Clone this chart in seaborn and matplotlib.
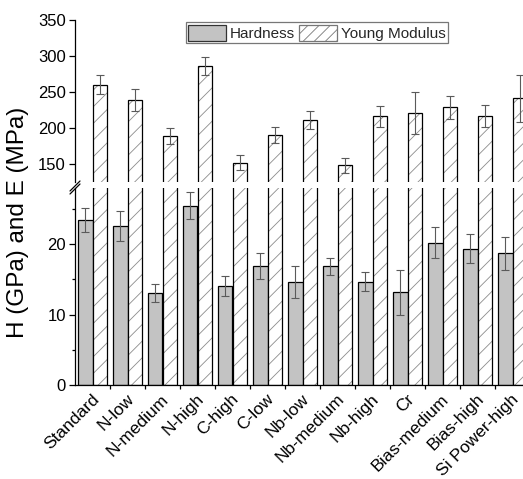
import numpy as np
import pandas as pd
import seaborn as sns
import matplotlib.pyplot as plt
import matplotlib.transforms as mtransforms
from matplotlib.patches import Patch, Rectangle
from matplotlib.lines import Line2D
from matplotlib.ticker import FixedLocator, MultipleLocator

# Coating variants and measured properties (mean and standard deviation)
categories = ['Standard', 'N-low', 'N-medium', 'N-high', 'C-high', 'C-low',
              'Nb-low', 'Nb-medium', 'Nb-high', 'Cr', 'Bias-medium',
              'Bias-high', 'Si Power-high']
hardness = [23.4, 22.6, 13.1, 25.5, 14.1, 16.9, 14.6, 16.9, 14.7, 13.2, 20.2, 19.4, 18.7]
hardness_err = [1.7, 2.1, 1.3, 1.9, 1.4, 1.8, 2.3, 1.2, 1.4, 3.2, 2.2, 2.0, 2.3]
modulus = [260, 239, 189, 286, 152, 190, 211, 148, 216, 221, 229, 217, 241]
modulus_err = [13, 15, 11, 13, 10, 11, 12, 11, 14, 29, 16, 15, 33]
series_names = ['Hardness', 'Young Modulus']

upper_ticks = [150, 200, 250, 300, 350]
lower_ticks = [0, 10, 20]

sns.set_theme(style='ticks')
plt.rcParams['font.family'] = ['Liberation Sans', 'DejaVu Sans']
plt.rcParams['hatch.linewidth'] = 0.6

df = pd.DataFrame({
    'category': categories * 2,
    'series': [series_names[0]] * len(categories) + [series_names[1]] * len(categories),
    'value': hardness + modulus,
})
errors = {series_names[0]: hardness_err, series_names[1]: modulus_err}
palette = {'Hardness': '#c3c3c3', 'Young Modulus': 'white'}

W, H = 523, 479
fig = plt.figure(figsize=(W / 100, H / 100), dpi=100)
left_px, right_px = 75, 530


def axes_rect(top_px, bottom_px):
    return [left_px / W, 1 - bottom_px / H, (right_px - left_px) / W, (bottom_px - top_px) / H]


ax_top = fig.add_axes(axes_rect(20, 182))
ax_bot = fig.add_axes(axes_rect(188, 385))

for ax in (ax_top, ax_bot):
    sns.barplot(data=df, x='category', y='value', hue='series', hue_order=series_names,
                palette=palette, saturation=1, width=0.82, edgecolor='black',
                linewidth=0.9, errorbar=None, legend=False, ax=ax)
    for name, container in zip(series_names, ax.containers):
        centers = [p.get_x() + p.get_width() / 2 for p in container.patches]
        heights = [p.get_height() for p in container.patches]
        if name == 'Young Modulus':
            for p in container.patches:
                # grey hatch inside, black outline drawn on top
                p.set_hatch('//')
                p.set_edgecolor('#8c8c8c')
                p.set_linewidth(0)
                ax.add_patch(Rectangle(p.get_xy(), p.get_width(), p.get_height(),
                                       fill=False, edgecolor='black', linewidth=0.9,
                                       zorder=p.get_zorder() + 0.1))
        ax.errorbar(centers, heights, yerr=errors[name], fmt='none', ecolor='#5a5a5a',
                    elinewidth=0.8, capsize=2.6, capthick=0.8, zorder=4)
    ax.set_xlim(-0.5, len(categories) - 0.5)
    ax.set_xlabel('')
    ax.set_ylabel('')
    sns.despine(ax=ax)
    ax.spines['left'].set_color('black')
    ax.spines['left'].set_linewidth(0.9)
    ax.tick_params(axis='y', which='major', length=4.5, width=0.9, color='black',
                   labelsize=12, pad=2, labelcolor='black')
    ax.tick_params(axis='y', which='minor', length=2.5, width=0.9, color='black')

# upper panel: Young's modulus range
ax_top.set_ylim(125, 350)
ax_top.set_yticks(upper_ticks)
ax_top.spines['bottom'].set_visible(False)
ax_top.tick_params(axis='x', which='both', bottom=False, labelbottom=False)

# lower panel: hardness range
ax_bot.set_ylim(0, 28)
ax_bot.set_yticks(lower_ticks)
ax_bot.yaxis.set_minor_locator(MultipleLocator(5))
ax_bot.spines['bottom'].set_color('black')
ax_bot.spines['bottom'].set_linewidth(0.9)
ax_bot.xaxis.set_minor_locator(FixedLocator(np.arange(0.5, len(categories) - 0.5, 1)))
ax_bot.tick_params(axis='x', which='major', length=0, pad=8.5, labelsize=12.5, labelcolor='black')
ax_bot.tick_params(axis='x', which='minor', length=3, width=0.9, color='black')
shift = mtransforms.ScaledTranslation(4 / 100, 0, fig.dpi_scale_trans)
for lbl in ax_bot.get_xticklabels():
    lbl.set_rotation(45)
    lbl.set_ha('right')
    lbl.set_va('center')
    lbl.set_rotation_mode('anchor')
    lbl.set_transform(lbl.get_transform() + shift)

# axis break marks on the left spine
for dy in (0, 3):
    fig.add_artist(Line2D([70 / W, 80 / W], [1 - (191 + dy) / H, 1 - (181 + dy) / H],
                          transform=fig.transFigure, color='black', lw=0.9))

fig.text(18 / W, 1 - 222 / H, 'H (GPa) and E (MPa)', rotation=90, ha='center',
         va='center', fontsize=17.5, color='black')

handles = [Patch(facecolor=palette['Hardness'], edgecolor='#333333', linewidth=0.9),
           Patch(facecolor='white', edgecolor='#777777', hatch='///', linewidth=0.9)]
leg = ax_top.legend(handles, series_names, loc='upper right', bbox_to_anchor=(0.82, 0.985),
                    ncol=2, fontsize=11, handlelength=2.5, handleheight=1.25,
                    handletextpad=0.25, columnspacing=0.25, borderpad=0.15,
                    borderaxespad=0, fancybox=False, framealpha=1)
leg.get_frame().set_edgecolor('#777777')
leg.get_frame().set_linewidth(0.9)

fig.savefig('out.png', dpi=100)
